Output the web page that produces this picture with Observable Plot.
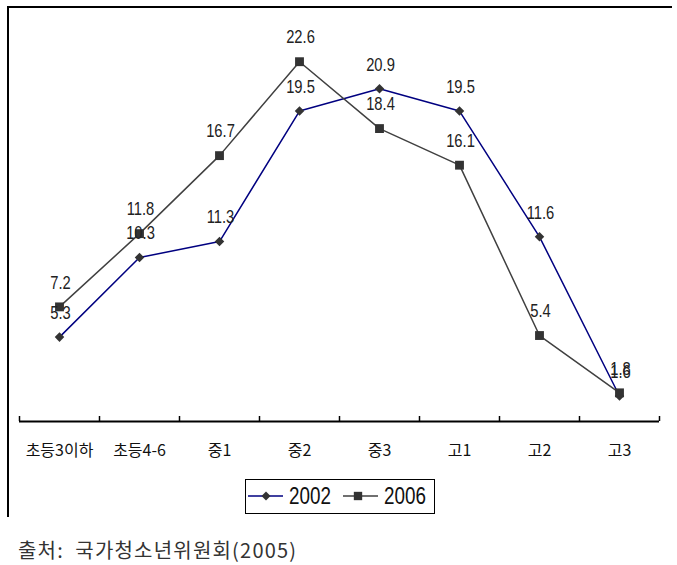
<!DOCTYPE html>
<html><head><meta charset="utf-8">
<script src="https://cdn.jsdelivr.net/npm/d3@7"></script>
<script src="https://cdn.jsdelivr.net/npm/@observablehq/plot@0.6"></script>
<style>
body{margin:0;background:#fff;}
#wrap{position:relative;width:677px;height:565px;overflow:hidden;background:#fff;}
#frame{position:absolute;left:7px;top:6px;width:665px;height:511px;border-top:2px solid #000;border-left:2px solid #000;box-sizing:border-box;}
#chart{position:absolute;left:0;top:0;}
#legend{position:absolute;left:245px;top:479px;}
#caption{position:absolute;left:18px;top:536px;font-family:"Noto Sans CJK KR",sans-serif;font-size:20px;line-height:28px;color:#333;letter-spacing:1.2px;white-space:pre;}
</style></head><body>
<div id="wrap">
  <div id="frame"></div>
  <div id="chart"></div>
  <div id="legend"></div>
  <div id="caption"></div>
</div>
<script>
const categories = ["초등3이하","초등4-6","중1","중2","중3","고1","고2","고3"];
const values2002 = [5.3,10.3,11.3,19.5,20.9,19.5,11.6,1.6];
const values2006 = [7.2,11.8,16.7,22.6,18.4,16.1,5.4,1.8];
const seriesNames = ["2002","2006"];
const captionText = "출처:  국가청소년위원회(2005)";

const numFont = "'Liberation Sans',Arial,sans-serif";
const korFont = "'Noto Sans CJK KR',sans-serif";
const col2002 = "#000080", col2006 = "#404040", markerFill = "#333";
const narrow = 0.82;

const boundaries = d3.range(categories.length + 1).map(i => i - 0.5);
const idx = (d, i) => i;

const chart = Plot.plot({
  width: 677,
  height: 470,
  marginLeft: 19,
  marginRight: 18,
  x: {type: "linear", domain: [-0.5, categories.length - 0.5], axis: null},
  y: {domain: [0, 25], range: [421, 23], axis: null},
  marks: [
    Plot.ruleY([0], {stroke: "#000", strokeWidth: 2}),
    Plot.ruleX(boundaries, {x: d => d, y1: 0, y2: 0, insetTop: -5, stroke: "#000", strokeWidth: 1.5}),
    Plot.text(categories, {x: idx, y: () => 0, text: d => d, dy: 29, fontSize: 16, fontFamily: korFont, fill: "#111"}),
    Plot.lineY(values2002, {x: idx, y: d => d, stroke: col2002, strokeWidth: 1.5}),
    Plot.dot(values2002, {x: idx, y: d => d, symbol: "square", rotate: 45, r: 3.8, fill: markerFill, stroke: "none"}),
    Plot.lineY(values2006, {x: idx, y: d => d, stroke: col2006, strokeWidth: 1.5}),
    Plot.dot(values2006, {x: idx, y: d => d, symbol: "square", r: 5, fill: markerFill, stroke: "none"}),
    Plot.text(values2002, {x: idx, y: d => d, text: d => d.toFixed(1), dy: -24, dx: 1, fontSize: 18, fontFamily: numFont, fill: "#222", className: "numlabel"}),
    Plot.text(values2006, {x: idx, y: d => d, text: d => d.toFixed(1), dy: -24, dx: 1, fontSize: 18, fontFamily: numFont, fill: "#222", className: "numlabel"})
  ]
});
document.getElementById("chart").appendChild(chart);
// condense numeric labels horizontally (reference uses a narrow face)
d3.select(chart).selectAll(".numlabel text").each(function() {
  const t = this.getAttribute("transform") || "";
  this.setAttribute("transform", t + ` scale(${narrow},1)`);
});

// legend
const lg = d3.select("#legend").append("svg").attr("width", 190).attr("height", 35);
lg.append("rect").attr("x", 0.5).attr("y", 0.5).attr("width", 189).attr("height", 34).attr("fill", "#fff").attr("stroke", "#000").attr("stroke-width", 1);
const items = [
  {name: seriesNames[0], color: col2002, shape: "diamond", x0: 3},
  {name: seriesNames[1], color: col2006, shape: "square", x0: 98}
];
items.forEach(it => {
  const g = lg.append("g").attr("transform", `translate(${it.x0},17)`);
  g.append("line").attr("x1", 0).attr("x2", 35).attr("y1", 0).attr("y2", 0).attr("stroke", it.color).attr("stroke-width", 1.5);
  if (it.shape === "diamond") {
    g.append("path").attr("d", d3.symbol(d3.symbolSquare, 40)()).attr("transform", "translate(18,0) rotate(45)").attr("fill", markerFill);
  } else {
    g.append("path").attr("d", d3.symbol(d3.symbolSquare, 70)()).attr("transform", "translate(15,0)").attr("fill", markerFill);
  }
  g.append("text").attr("transform", `translate(41,0) scale(${narrow},1)`).attr("dy", "0.36em").attr("font-family", numFont).attr("font-size", 23).attr("fill", "#111").text(it.name);
});

document.getElementById("caption").textContent = captionText;
</script>
</body></html>
